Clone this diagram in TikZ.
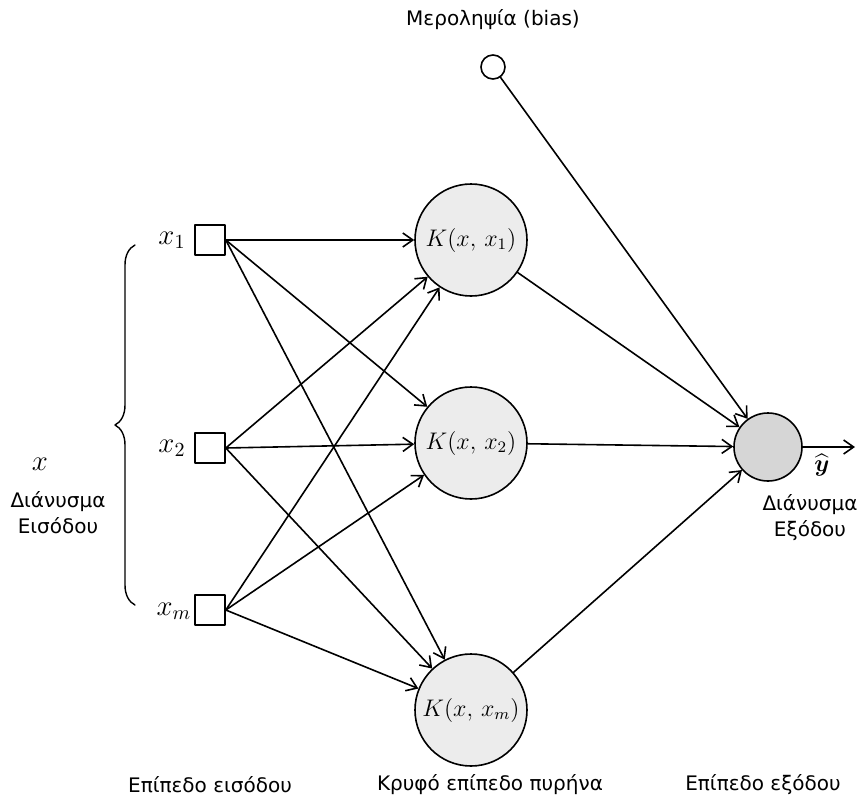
\documentclass[tikz,border=0pt]{standalone}
\usepackage{amsmath}
\usepackage{fontspec}
\newfontfamily\grfont{DejaVu Sans}
\usetikzlibrary{arrows.meta}
\usetikzlibrary{decorations.pathreplacing}
\definecolor{kerngray}{RGB}{236,236,236}
\definecolor{outgray}{RGB}{214,214,214}

\tikzset{
	inbox/.style={draw, rectangle, minimum size=15pt, inner sep=0pt},
	kernel/.style={draw, circle, fill=kerngray, minimum size=56pt, inner sep=0pt, font=\large},
	mathlbl/.style={font=\Large},
	grlbl/.style={font=\grfont\fontsize{10}{13}\selectfont, align=center}
}

\begin{document}
\begin{tikzpicture}[line cap=round,line join=round,>={Straight Barb[length=5pt,width=7pt]},x=0.5pt,y=-0.5pt,line width=0.8pt]

		\useasboundingbox (0,0) rectangle (864,805);

		%eisodos
		\node[inbox] (in1) at (210,240) {};
		\node[inbox] (in2) at (210,448) {};
		\node[inbox] (inm) at (210,610) {};
		\node[mathlbl] (lx1) at (172,240) {$x_1$};
		\node[mathlbl] (lx2) at (172,448) {$x_2$};
		\node[mathlbl] (lxm) at (174,611) {$x_m$};

		%agkyli
		\coordinate (brbot) at (135,605);
		\coordinate (brtop) at (135,245);
		\draw[line width=0.7pt, decorate, decoration={brace, amplitude=10pt}] (brbot) -- (brtop);
		\node[mathlbl] (lx) at (40,464) {$x$};
		\node[grlbl] (invec) at (58,513) {Διάνυσμα\\Εισόδου};

		%pyrines
		\node[kernel] (ker1) at (471,240) {$K(x,\,x_1)$};
		\node[kernel] (ker2) at (471,443) {$K(x,\,x_2)$};
		\node[kernel] (kerm) at (471,710) {$K(x,\,x_m)$};

		%exodos
		\node[draw, circle, fill=outgray, minimum size=34pt, inner sep=0pt] (out) at (768,447) {};
		\coordinate (yend) at (855,447);
		\node[inner sep=0pt, font=\large] (yhat) at (822,465) {$\widehat{\boldsymbol{y}}$};
		\node[grlbl] (outvec) at (810,518) {Διάνυσμα\\Εξόδου};

		%bias
		\node[draw, circle, minimum size=12pt, inner sep=0pt] (bias) at (493,67) {};
		\node[grlbl] (biaslbl) at (493,20) {Μεροληψία (bias)};

		% syndeseis
		\foreach \i in {in1,in2,inm}
		{
		\foreach \k in {ker1,ker2,kerm}
		{\draw[->] (\i.east) -- (\k);}
		}

		\foreach \k in {ker1,ker2,kerm}
		{\draw[->] (\k) -- (out);}

		\draw[->] (bias) -- (out);
		\draw[->] (out) -- (yend);

		% epipeda
		\node[grlbl] (lin) at (210,785) {Επίπεδο εισόδου};
		\node[grlbl] (lhid) at (490,785) {Κρυφό επίπεδο πυρήνα};
		\node[grlbl] (lout) at (763,785) {Επίπεδο εξόδου};

	\end{tikzpicture}
\end{document}
